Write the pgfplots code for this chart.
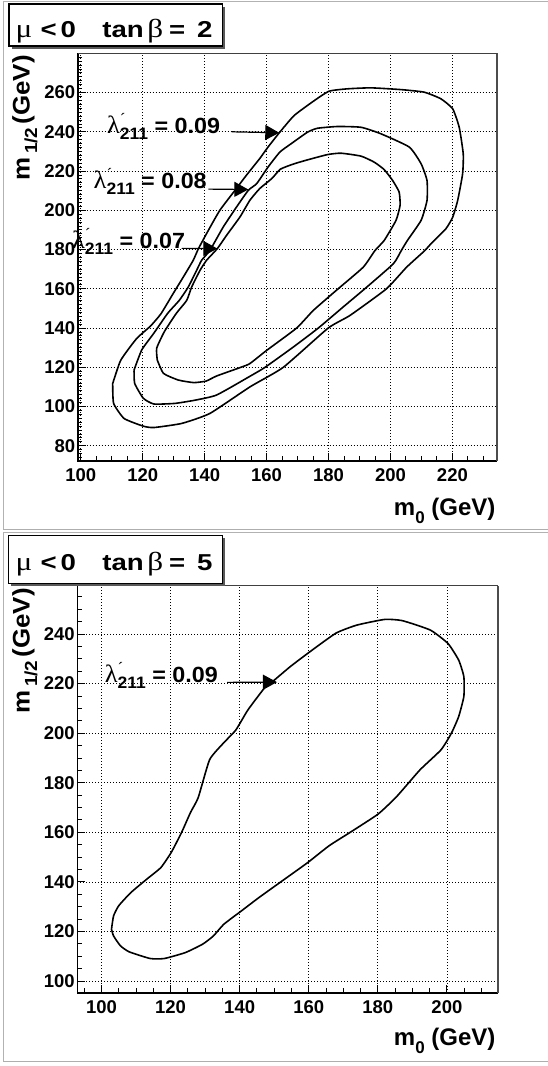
\documentclass[border=0pt]{standalone}
\usepackage{fontspec}
\setmainfont{Liberation Sans}
\newfontfamily\grk{Liberation Serif}
\usepackage{pgfplots}
\pgfplotsset{compat=1.18}
\usetikzlibrary{arrows.meta}

\newcommand{\fs}[1]{\fontsize{#1}{#1}\selectfont}
\newcommand{\gr}[1]{{\grk\mdseries\fs{26}#1}}
% lambda'_211 = value
\newcommand{\lam}[1]{\scalebox{1.06}[1]{\fs{22}\bfseries{\grk\mdseries\fs{25}λ}\rlap{\raisebox{9pt}{\grk\mdseries\fs{16}´}}\raisebox{-6pt}{\fs{16.5}211} = #1}}
% title of a panel
\newcommand{\ttl}[1]{\scalebox{1.2}[1]{\fs{23}\bfseries
  \makebox[20.8pt][l]{\gr{μ}}\makebox[16.7pt][l]{<}\makebox[34.7pt][l]{0}%
  \makebox[37.5pt][l]{tan}\makebox[18.1pt][l]{\gr{β}}\makebox[23.5pt][l]{=}#1}}
\newcommand{\xtitle}{\fs{24}\bfseries m\raisebox{-7.5pt}{\fs{17}0} (GeV)}
\newcommand{\ytitle}{\scalebox{1.08}[1]{\fs{24}\bfseries m\hspace{3pt}\raisebox{-7.5pt}{\fs{17.5}1/2}\hspace{3pt}(GeV)}}

\pgfplotsset{
  rootaxis/.style={
    scale only axis,
    axis line style={draw=none},
    tick align=inside,
    xtick pos=bottom, ytick pos=left,
    major tick length=8pt, minor tick length=4.5pt,
    tick style={black, line width=0.9pt},
    grid=major,
    major grid style={black, line width=0.8pt, dash pattern=on 1pt off 2pt},
    tick label style={font=\fs{18.5}\bfseries},
    /pgf/number format/assume math mode=true,
    xticklabel style={yshift=-4pt},
    yticklabel style={xshift=1pt},
    clip=false,
  },
  contour/.style={black, line width=1.6pt, mark=none, smooth, tension=0.3},
}
\tikzset{
  lbl/.style={anchor=base west, inner sep=0pt},
  arr/.style={black, line width=1.2pt, -{Triangle[length=14pt,width=15pt]}},
}

\begin{document}
\begin{tikzpicture}[x=1pt, y=1pt]
\useasboundingbox (0pt,0pt) rectangle (548pt,-1066pt);

% pad frames
\draw[black!30, line width=1pt] (3.3pt,-529pt) -- (3.3pt,-1.7pt) -- (548pt,-1.7pt);
\draw[red!45, line width=1pt] (3.3pt,-529pt) -- (548pt,-529pt);
\draw[black!30, line width=1.2pt] (3.3pt,-1061pt) -- (3.3pt,-532.3pt) -- (548pt,-532.3pt);
\draw[red!45, line width=1pt] (3.3pt,-1061pt) -- (548pt,-1061pt);

% ---------------- top panel: tan beta = 2 ----------------
\begin{axis}[rootaxis,
  at={(77.7pt,-460.7pt)}, anchor=south west,
  width=419.6pt, height=407.4pt,
  xmin=99, xmax=234.5, ymin=72.4, ymax=280,
  xtick={100,120,...,220}, ytick={80,100,...,260},
  minor xtick={100,105,...,230}, minor ytick={74,76,...,278},
]
% lambda' = 0.09
\addplot[contour] coordinates {
(110.3,111.7) (112.9,123.6) (118.0,134.6) (122.5,141.0) (125.9,147.3)
(129.8,157.5) (133.1,166.0) (136.3,174.5) (138.0,180.5) (141.2,189.8)
(144.9,200.0) (149.8,210.2) (153.5,217.9) (157.8,226.4) (160.5,232.3)
(164.1,239.5) (168.9,248.3) (175.4,255.9) (180.2,260.7) (186.1,261.9)
(193.7,262.4) (203.4,261.5) (210.9,260.2) (216.3,256.8) (220.1,251.7)
(222.2,242.3) (223.5,228.8) (223.3,218.6) (221.7,205.0) (220.1,196.5)
(217.9,190.6) (213.1,183.0) (211.1,179.5) (205.2,171.0) (198.7,160.0)
(186.9,146.4) (179.9,140.0) (165.4,120.0) (154.6,110.0) (141.7,96.5)
(132.6,91.4) (123.6,89.3) (120.2,90.0) (114.0,93.9) (110.6,101.6)
(110.3,111.7)
};
% lambda' = 0.08
\addplot[contour] coordinates {
(117.2,118.6) (119.7,128.9) (123.6,137.4) (128.1,147.6) (131.8,154.1)
(134.7,160.9) (137.4,169.4) (139.0,174.5) (141.7,179.6) (146.0,191.5)
(150.3,201.7) (154.1,210.2) (156.8,213.6) (160.5,222.1) (164.3,229.7)
(167.9,233.9) (173.2,239.8) (176.4,241.8) (182.9,242.7) (190.5,242.3)
(196.9,239.0) (206.1,232.2) (209.9,223.7) (211.8,215.2) (211.8,205.0)
(209.9,194.9) (205.5,184.7) (203.5,179.5) (200.9,172.7) (191.7,160.0)
(184.7,150.7) (176.7,140.0) (168.6,130.3) (159.5,120.0) (154.6,115.4)
(143.9,105.9) (137.1,103.3) (130.4,101.6) (123.6,101.3) (120.2,104.2)
(117.4,111.8) (117.2,118.6)
};
% lambda' = 0.07
\addplot[contour] coordinates {
(124.7,123.7) (124.5,129.7) (127.0,138.2) (130.9,147.6) (134.2,154.1)
(135.8,160.9) (138.5,169.4) (140.6,174.5) (144.1,180.5) (147.1,187.3)
(151.4,196.6) (154.6,205.1) (157.8,211.1) (161.7,216.2) (164.5,221.0)
(168.9,223.7) (173.2,225.7) (179.7,228.4) (184.0,229.1) (190.5,227.6)
(194.8,224.5) (198.0,220.7) (200.7,215.2) (202.8,209.3) (203.1,202.5)
(201.8,194.9) (198.0,184.7) (195.0,179.5) (191.2,171.0) (183.1,160.0)
(175.1,149.0) (169.7,140.0) (160.0,128.6) (154.6,121.9) (151.7,120.0)
(143.9,115.6) (140.5,113.0) (136.5,112.2) (131.5,113.5) (126.7,116.9)
(124.7,123.7)
};
\node[lbl] at (axis cs:108.4,239.3) {\lam{0.09}};
\draw[arr] (axis cs:148.7,240.0) -- (axis cs:164.1,239.5);
\node[lbl] at (axis cs:104.1,211.0) {\lam{0.08}};
\draw[arr] (axis cs:141.2,210.8) -- (axis cs:154.1,210.6);
\node[lbl] at (axis cs:97.1,180.6) {\lam{0.07}};
\draw[arr] (axis cs:132.6,180.6) -- (axis cs:144.1,180.5);
% frame
\draw[black, line width=1.6pt] (rel axis cs:0,1) -- (rel axis cs:0,0) -- (rel axis cs:1,0);
\draw[black!70, line width=1.8pt] (rel axis cs:1,0) -- (rel axis cs:1,1);
\draw[black!75, line width=0.8pt] (rel axis cs:0,1) -- (rel axis cs:1,1);
\end{axis}

% ---------------- bottom panel: tan beta = 5 ----------------
\begin{axis}[rootaxis,
  at={(77.3pt,-992.7pt)}, anchor=south west,
  width=420.4pt, height=407pt,
  xmin=93, xmax=214.7, ymin=95.3, ymax=259.5,
  xtick={100,120,...,200}, ytick={100,120,...,240},
  minor xtick={95,100,...,210}, minor ytick={100,105,...,255},
]
% lambda' = 0.09
\addplot[contour] coordinates {
(102.9,120.9) (103.5,126.3) (105.0,130.4) (108.5,135.7) (113.1,141.1)
(117.2,145.8) (120.2,151.9) (123.2,160.0) (125.8,168.1) (128.0,174.0)
(131.3,189.3) (135.3,196.0) (138.9,201.3) (142.4,209.4) (147.5,218.8)
(149.5,220.8) (154.6,226.8) (159.7,232.2) (167.8,240.3) (173.9,243.6)
(182.0,245.9) (187.1,245.4) (195.2,241.6) (200.3,236.2) (203.4,229.5)
(204.9,222.8) (204.9,214.8) (203.4,206.7) (201.3,200.0) (198.3,193.3)
(192.2,185.2) (185.5,174.5) (180.1,167.4) (172.0,160.0) (165.9,154.6)
(159.8,147.9) (151.7,139.8) (145.6,133.7) (140.5,128.3) (135.4,122.9)
(132.4,118.2) (129.3,114.9) (124.3,111.5) (118.2,109.1) (114.1,109.1)
(108.0,111.8) (105.5,114.2) (103.5,118.2) (102.9,120.9)
};
\node[lbl] at (axis cs:100.9,220.3) {\lam{0.09}};
\draw[arr] (axis cs:136.4,220.5) -- (axis cs:150.8,220.6);
\draw[black, line width=1.6pt] (rel axis cs:0,1) -- (rel axis cs:0,0) -- (rel axis cs:1,0);
\draw[black!70, line width=1.8pt] (rel axis cs:1,0) -- (rel axis cs:1,1);
\draw[black!75, line width=0.8pt] (rel axis cs:0,1) -- (rel axis cs:1,1);
\end{axis}

% axis titles
\node[anchor=base east, inner sep=0pt] at (495.6pt,-515.5pt) {\xtitle};
\node[anchor=base east, inner sep=0pt] at (495.6pt,-1045.5pt) {\xtitle};
\node[rotate=90, anchor=north east, inner sep=0pt] at (12pt,-55pt) {\ytitle};
\node[rotate=90, anchor=north east, inner sep=0pt] at (12pt,-588pt) {\ytitle};

% title boxes
\fill[black!65] (11.5pt,-6.5pt) rectangle (225pt,-48.5pt);
\draw[black, fill=white, line width=1.2pt] (9pt,-4pt) rectangle (222.3pt,-46pt);
\node[anchor=base west, inner sep=0pt] at (15.5pt,-37.3pt) {\ttl{2}};
\fill[black!65] (11pt,-538.2pt) rectangle (225.1pt,-585.8pt);
\draw[black, fill=white, line width=1.2pt] (8.5pt,-535.7pt) rectangle (222.6pt,-583.3pt);
\node[anchor=base west, inner sep=0pt] at (15.5pt,-570pt) {\ttl{5}};
\end{tikzpicture}
\end{document}
